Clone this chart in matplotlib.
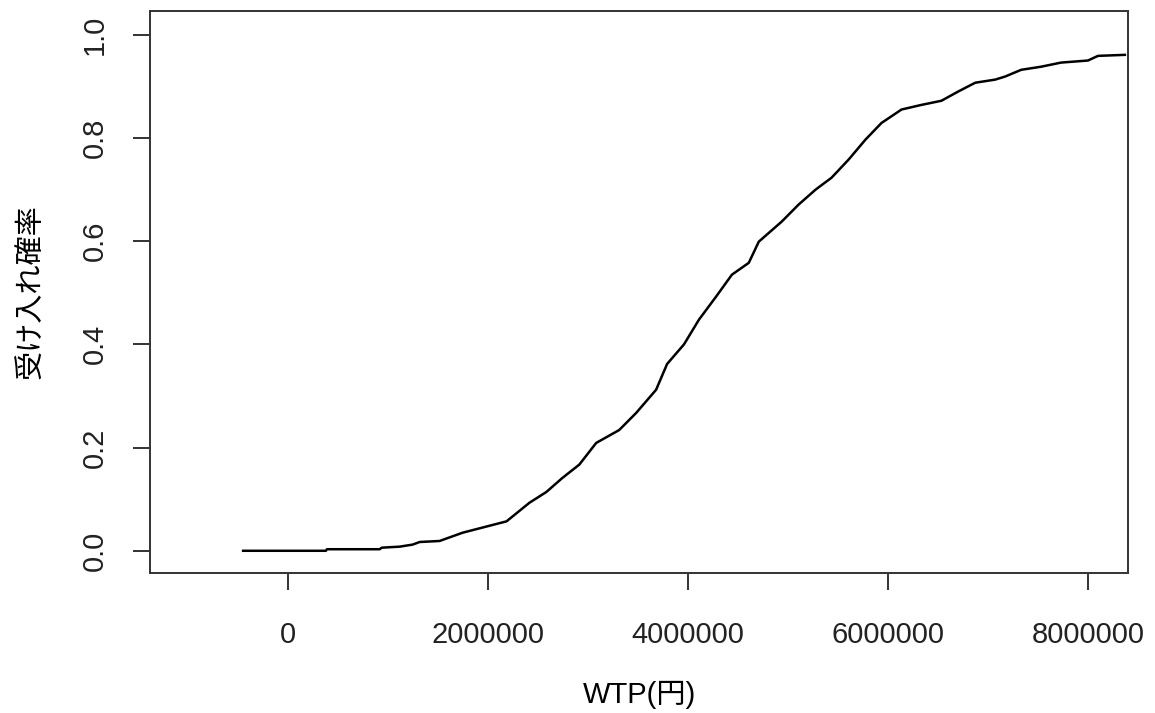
import numpy as np
import matplotlib.pyplot as plt

# WTP (yen) and acceptance probability
wtp = [-449000, 379000, 389000, 917000, 938000, 1117000, 1247000, 1316000,
       1516000, 1746000, 1985000, 2185000, 2414000, 2584000, 2743000, 2913000,
       3082000, 3312000, 3481000, 3681000, 3791000, 3960000, 4110000, 4279000,
       4439000, 4608000, 4708000, 4938000, 5107000, 5277000, 5436000, 5606000,
       5776000, 5935000, 6135000, 6334000, 6534000, 6703000, 6873000, 7072000,
       7172000, 7332000, 7531000, 7731000, 8000000, 8100000, 8369000]
prob = [0.0, 0.0, 0.003, 0.003, 0.006, 0.008, 0.012, 0.017,
        0.019, 0.035, 0.047, 0.057, 0.093, 0.114, 0.141, 0.167,
        0.209, 0.234, 0.267, 0.312, 0.362, 0.400, 0.448, 0.492,
        0.535, 0.558, 0.599, 0.638, 0.671, 0.700, 0.723, 0.758,
        0.797, 0.829, 0.855, 0.864, 0.872, 0.890, 0.907, 0.913,
        0.919, 0.932, 0.938, 0.946, 0.950, 0.959, 0.961]

x_ticks = [0, 2000000, 4000000, 6000000, 8000000]
y_ticks = [0.0, 0.2, 0.4, 0.6, 0.8, 1.0]

plt.rcParams['font.family'] = ['Liberation Sans', 'Noto Sans CJK JP']

fig = plt.figure(figsize=(11.55, 7.13), dpi=100)
ax = fig.add_axes([0.1299, 0.1964, 0.8467, 0.7882])

ax.plot(wtp, prob, color='black', linewidth=1.8)

ax.set_xlim(-1380000, 8400000)
ax.set_ylim(-0.043, 1.046)

ax.set_xticks(x_ticks)
ax.set_xticklabels([str(v) for v in x_ticks])
ax.set_yticks(y_ticks)
ax.set_yticklabels([f'{v:.1f}' for v in y_ticks], rotation=90, va='center')

ax.tick_params(axis='both', direction='out', length=12.5, width=1.3,
               labelsize=21, colors='#222222')
ax.tick_params(axis='x', pad=22)
ax.tick_params(axis='y', pad=17)

for s in ax.spines.values():
    s.set_linewidth(1.4)
    s.set_color('#333333')

ax.set_xlabel('WTP(円)', fontsize=21, labelpad=23)
ax.set_ylabel('受け入れ確率', fontsize=21, labelpad=25.5)

fig.savefig('out.png', dpi=100)
